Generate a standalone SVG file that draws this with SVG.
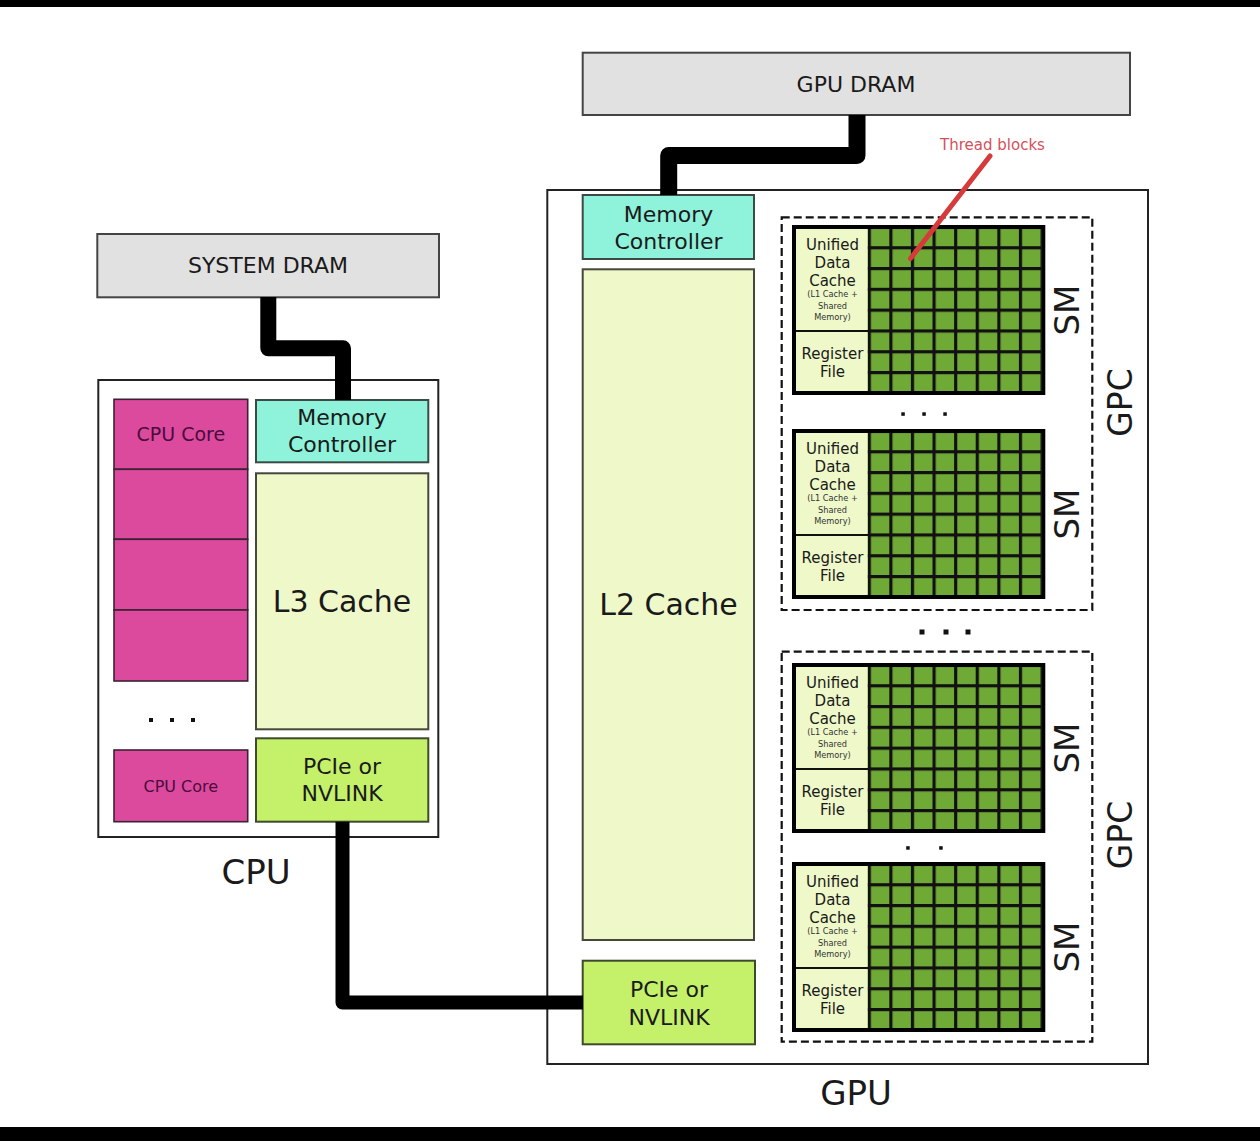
<svg xmlns="http://www.w3.org/2000/svg" width="1260" height="1141" viewBox="0 0 1260 1141">
<style>
.t{font-family:"DejaVu Sans",sans-serif;fill:#1a1a1a;text-anchor:middle}
.dram{fill:#e1e1e1;stroke:#444;stroke-width:2}
.frame{fill:#fff;stroke:#222;stroke-width:2}
.mc{fill:#8ff2da;stroke:#3a4a44;stroke-width:2}
.cache{fill:#eef8c9;stroke:#45483a;stroke-width:2}
.pcie{fill:#c4f06a;stroke:#3f4a2c;stroke-width:2}
.core{fill:#dc4a9e;stroke:#3a2233;stroke-width:1.6}
.coret{fill:#4a0c3c}
.gpc{fill:none;stroke:#111;stroke-width:2.2;stroke-dasharray:8 4}
.wire{fill:none;stroke:#000;stroke-linejoin:round}
.panel{fill:#eef8c9}
.smb{fill:none;stroke:#000;stroke-width:4}
.div{stroke:#111;stroke-width:2.2}
.s15{font-size:15px}
.s8{font-size:8.2px;fill:#333}
.dot{fill:#111}
</style>
<defs>
<pattern id="grid" patternUnits="userSpaceOnUse" x="75.7" y="0.4" width="21.6" height="20.8">
<rect width="21.6" height="20.8" fill="#111"/>
<rect x="3.2" y="3.2" width="18.4" height="17.6" fill="#70aa36"/>
</pattern>
</defs>
<rect x="0" y="0" width="1260" height="7" fill="#000"/>
<rect x="0" y="1127" width="1260" height="14" fill="#000"/>

<g id="system-dram">
<rect class="dram" x="97.3" y="234" width="341.7" height="63.3"/>
<text class="t" x="268" y="273" font-size="22">SYSTEM DRAM</text>
</g>

<g id="cpu">
<rect class="frame" x="98.3" y="380" width="340" height="457"/>
<text class="t" x="256" y="884" font-size="34">CPU</text>
</g>

<g id="cpu-cores">
<rect class="core" x="114" y="399.3" width="133.7" height="70"/>
<rect class="core" x="114" y="469.3" width="133.7" height="70"/>
<rect class="core" x="114" y="539.3" width="133.7" height="70.7"/>
<rect class="core" x="114" y="610" width="133.7" height="71"/>
<text class="t coret" x="180.8" y="441" font-size="19">CPU Core</text>
<rect class="dot" x="149" y="718" width="4" height="4"/>
<rect class="dot" x="170" y="718" width="4" height="4"/>
<rect class="dot" x="191" y="718" width="4" height="4"/>
</g>
<g id="cpu-core-last">
<rect class="core" x="114" y="750" width="133.7" height="71.7"/>
<text class="t coret" x="180.8" y="791.5" font-size="16">CPU Core</text>
</g>

<g id="cpu-memory-controller">
<rect class="mc" x="256" y="400" width="172.3" height="62.3"/>
<text class="t" x="342" y="425" font-size="22">Memory</text>
<text class="t" x="342" y="452" font-size="22">Controller</text>
</g>
<g id="l3-cache">
<rect class="cache" x="256" y="473.3" width="172.3" height="256"/>
<text class="t" x="342" y="612" font-size="30">L3 Cache</text>
</g>
<g id="cpu-pcie">
<rect class="pcie" x="256" y="738.3" width="172.3" height="83.4"/>
<text class="t" x="342" y="774" font-size="22">PCIe or</text>
<text class="t" x="342" y="801" font-size="22">NVLINK</text>
</g>

<g id="gpu-dram">
<rect class="dram" x="582.7" y="52.7" width="547.3" height="62.3"/>
<text class="t" x="856" y="91.5" font-size="22">GPU DRAM</text>
</g>

<g id="gpu">
<rect class="frame" x="547.3" y="190" width="600.7" height="874"/>
<text class="t" x="856" y="1105" font-size="34">GPU</text>
</g>

<g id="gpu-memory-controller">
<rect class="mc" x="582.7" y="195" width="171.3" height="64"/>
<text class="t" x="668.5" y="222" font-size="22">Memory</text>
<text class="t" x="668.5" y="248.5" font-size="22">Controller</text>
</g>
<g id="l2-cache">
<rect class="cache" x="582.7" y="269.3" width="171.3" height="670.7"/>
<text class="t" x="668.5" y="615" font-size="30">L2 Cache</text>
</g>
<g id="gpu-pcie">
<rect class="pcie" x="582.7" y="960.7" width="172.3" height="83.6"/>
<text class="t" x="669" y="996.5" font-size="22">PCIe or</text>
<text class="t" x="669" y="1025" font-size="22">NVLINK</text>
</g>

<g id="gpc1">
<rect class="gpc" x="781.7" y="217.3" width="310.6" height="392.7"/>
<text class="t" x="1132" y="402.5" font-size="33" transform="rotate(-90 1132 402.5)">GPC</text>
<rect class="dot" x="901.3" y="412.3" width="3.5" height="3.5"/>
<rect class="dot" x="922.3" y="412.3" width="3.5" height="3.5"/>
<rect class="dot" x="943.3" y="412.3" width="3.5" height="3.5"/>
</g>

<g id="gpc-dots">
<rect class="dot" x="919.5" y="629.5" width="5" height="5"/>
<rect class="dot" x="943.5" y="629.5" width="5" height="5"/>
<rect class="dot" x="965.5" y="629.5" width="5" height="5"/>
</g>

<g id="gpc2">
<rect class="gpc" x="781.7" y="651.7" width="310.6" height="390"/>
<text class="t" x="1132" y="835" font-size="33" transform="rotate(-90 1132 835)">GPC</text>
<rect class="dot" x="906.2" y="846.2" width="3.5" height="3.5"/>
<rect class="dot" x="939.2" y="846.2" width="3.5" height="3.5"/>
</g>

<g id="sm1" transform="translate(792,225)">
<rect class="panel" x="4" y="4" width="73" height="162"/>
<rect x="75.7" y="0.4" width="174" height="168" fill="url(#grid)"/>
<line class="div" x1="4" y1="106" x2="77" y2="106"/>
<rect class="smb" x="2" y="2" width="249.3" height="166"/>
<text class="t s15" x="40.5" y="25">Unified</text>
<text class="t s15" x="40.5" y="43">Data</text>
<text class="t s15" x="40.5" y="61">Cache</text>
<text class="t s8" x="40.5" y="72">(L1 Cache +</text>
<text class="t s8" x="40.5" y="83.5">Shared</text>
<text class="t s8" x="40.5" y="95">Memory)</text>
<text class="t s15" x="40.5" y="134">Register</text>
<text class="t s15" x="40.5" y="152">File</text>
<text class="t" x="287" y="85" font-size="34" transform="rotate(-90 287 85)">SM</text>
</g>

<g id="sm2" transform="translate(792,429)">
<rect class="panel" x="4" y="4" width="73" height="162"/>
<rect x="75.7" y="0.4" width="174" height="168" fill="url(#grid)"/>
<line class="div" x1="4" y1="106" x2="77" y2="106"/>
<rect class="smb" x="2" y="2" width="249.3" height="166"/>
<text class="t s15" x="40.5" y="25">Unified</text>
<text class="t s15" x="40.5" y="43">Data</text>
<text class="t s15" x="40.5" y="61">Cache</text>
<text class="t s8" x="40.5" y="72">(L1 Cache +</text>
<text class="t s8" x="40.5" y="83.5">Shared</text>
<text class="t s8" x="40.5" y="95">Memory)</text>
<text class="t s15" x="40.5" y="134">Register</text>
<text class="t s15" x="40.5" y="152">File</text>
<text class="t" x="287" y="85" font-size="34" transform="rotate(-90 287 85)">SM</text>
</g>

<g id="sm3" transform="translate(792,663)">
<rect class="panel" x="4" y="4" width="73" height="162"/>
<rect x="75.7" y="0.4" width="174" height="168" fill="url(#grid)"/>
<line class="div" x1="4" y1="106" x2="77" y2="106"/>
<rect class="smb" x="2" y="2" width="249.3" height="166"/>
<text class="t s15" x="40.5" y="25">Unified</text>
<text class="t s15" x="40.5" y="43">Data</text>
<text class="t s15" x="40.5" y="61">Cache</text>
<text class="t s8" x="40.5" y="72">(L1 Cache +</text>
<text class="t s8" x="40.5" y="83.5">Shared</text>
<text class="t s8" x="40.5" y="95">Memory)</text>
<text class="t s15" x="40.5" y="134">Register</text>
<text class="t s15" x="40.5" y="152">File</text>
<text class="t" x="287" y="85" font-size="34" transform="rotate(-90 287 85)">SM</text>
</g>

<g id="sm4" transform="translate(792,862)">
<rect class="panel" x="4" y="4" width="73" height="162"/>
<rect x="75.7" y="0.4" width="174" height="168" fill="url(#grid)"/>
<line class="div" x1="4" y1="106" x2="77" y2="106"/>
<rect class="smb" x="2" y="2" width="249.3" height="166"/>
<text class="t s15" x="40.5" y="25">Unified</text>
<text class="t s15" x="40.5" y="43">Data</text>
<text class="t s15" x="40.5" y="61">Cache</text>
<text class="t s8" x="40.5" y="72">(L1 Cache +</text>
<text class="t s8" x="40.5" y="83.5">Shared</text>
<text class="t s8" x="40.5" y="95">Memory)</text>
<text class="t s15" x="40.5" y="134">Register</text>
<text class="t s15" x="40.5" y="152">File</text>
<text class="t" x="287" y="85" font-size="34" transform="rotate(-90 287 85)">SM</text>
</g>

<g id="connectors">
<path class="wire" stroke-width="16" d="M268.3,297 V348.3 H343 V400"/>
<path class="wire" stroke-width="17" d="M857,115 V155.5 H668.7 V195"/>
<path class="wire" stroke-width="14" d="M342.5,821.7 V1002.5 H583"/>
</g>

<g id="thread-blocks">
<line x1="990" y1="156" x2="910.5" y2="258.5" stroke="#d63a3a" stroke-width="5" stroke-linecap="round"/>
<text class="t" x="992.5" y="150" font-size="15" style="fill:#d4505a">Thread blocks</text>
</g>
</svg>
